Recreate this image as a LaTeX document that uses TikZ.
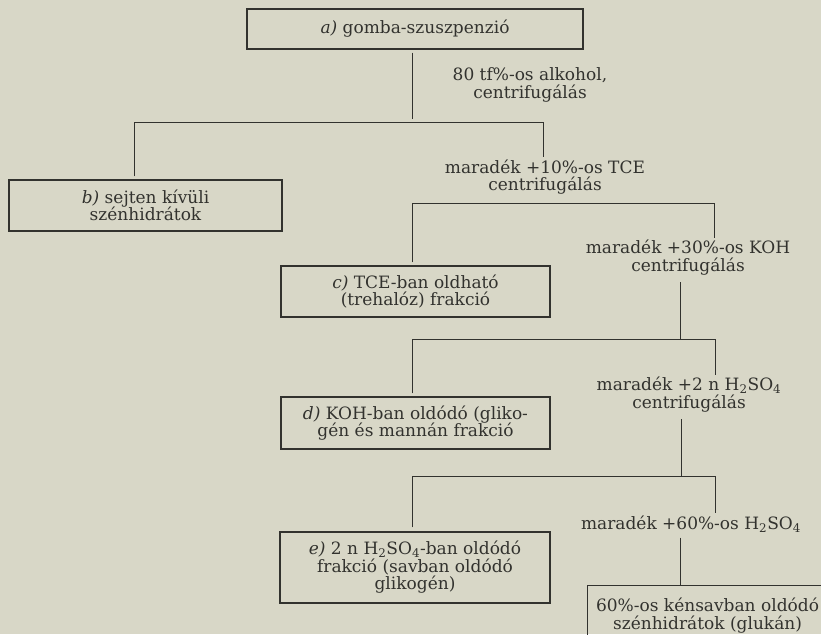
\documentclass[tikz,border=0pt]{standalone}
\usepackage{fontspec}
\setmainfont{DejaVu Serif}
\definecolor{paper}{RGB}{216,215,199}
\definecolor{ink}{RGB}{50,50,46}

\begin{document}
\begin{tikzpicture}[x=1pt, y=-1pt, ink, line width=0.9pt,
	every node/.style={font=\fontsize{17}{17.5}\selectfont, text=ink, align=center, inner sep=2pt},
	box/.style={draw, line width=1.1pt, inner sep=0pt}]
	\useasboundingbox (0,0) rectangle (821,634);
	\fill[paper] (0,0) rectangle (821,634);
	\clip (0,0) rectangle (821,634);

	% boxes
	\node[box, minimum width=336pt, minimum height=40pt] (a) at (415,29) {\textit{a)} gomba-szuszpenzió};
	\node[box, minimum width=273pt, minimum height=51pt] (b) at (145.5,205.5) {\textit{b)} sejten kívüli\\ szénhidrátok};
	\node[box, minimum width=269pt, minimum height=51pt] (c) at (415.5,291.5) {\textit{c)} TCE-ban oldható\\ (trehalóz) frakció};
	\node[box, minimum width=269pt, minimum height=52pt] (d) at (415.5,423) {\textit{d)} KOH-ban oldódó (gliko-\\ gén és mannán frakció};
	\node[box, minimum width=270pt, minimum height=71pt] (e) at (415,567.5) {\textit{e)} 2 n H\textsubscript{2}SO\textsubscript{4}-ban oldódó\\ frakció (savban oldódó\\ glikogén)};
	\node[box, anchor=north west, minimum width=240pt, minimum height=60pt] (f) at (587,585) {60\%-os kénsavban oldódó\\ szénhidrátok (glukán)};

	% steps
	\node (alk) at (530,85) {80 tf\%-os alkohol,\\ centrifugálás};
	\node (tce) at (545,177) {maradék +10\%-os TCE\\ centrifugálás};
	\node (koh) at (688,257.5) {maradék +30\%-os KOH\\ centrifugálás};
	\node (kens2) at (689,394.5) {maradék +2 n H\textsubscript{2}SO\textsubscript{4}\\ centrifugálás};
	\node (kens60) at (691,524) {maradék +60\%-os H\textsubscript{2}SO\textsubscript{4}};

	\coordinate (s1) at (412,122);
	\coordinate (l1) at (134,122);
	\coordinate (r1) at (543,122);
	\coordinate (l2) at (412,203);
	\coordinate (r2) at (714,203);
	\coordinate (s3) at (680,339);
	\coordinate (l3) at (412,339);
	\coordinate (r3) at (715,339);
	\coordinate (s4) at (681,476);
	\coordinate (l4) at (412,476);
	\coordinate (r4) at (715,476);
	\coordinate (s5) at (680,585);

	\draw[shorten <=3pt, shorten >=3pt] (s1 |- a.south) -- (s1);
	\draw[shorten <=3pt] (l1 |- b.north) -- (l1) -- (r1) -- (r1 |- tce.north);
	\draw[shorten <=3pt] (l2 |- c.north) -- (l2) -- (r2) -- (r2 |- koh.north);
	\draw[shorten <=5pt] (s3 |- koh.south) -- (s3);
	\draw[shorten <=3pt] (l3 |- d.north) -- (l3) -- (r3) -- (r3 |- kens2.north);
	\draw[shorten <=5pt] (s4 |- kens2.south) -- (s4);
	\draw[shorten <=4pt] (l4 |- e.north) -- (l4) -- (r4) -- (r4 |- kens60.north);
	\draw[shorten <=3pt] (s5 |- kens60.south) -- (s5 |- f.north);
\end{tikzpicture}
\end{document}
